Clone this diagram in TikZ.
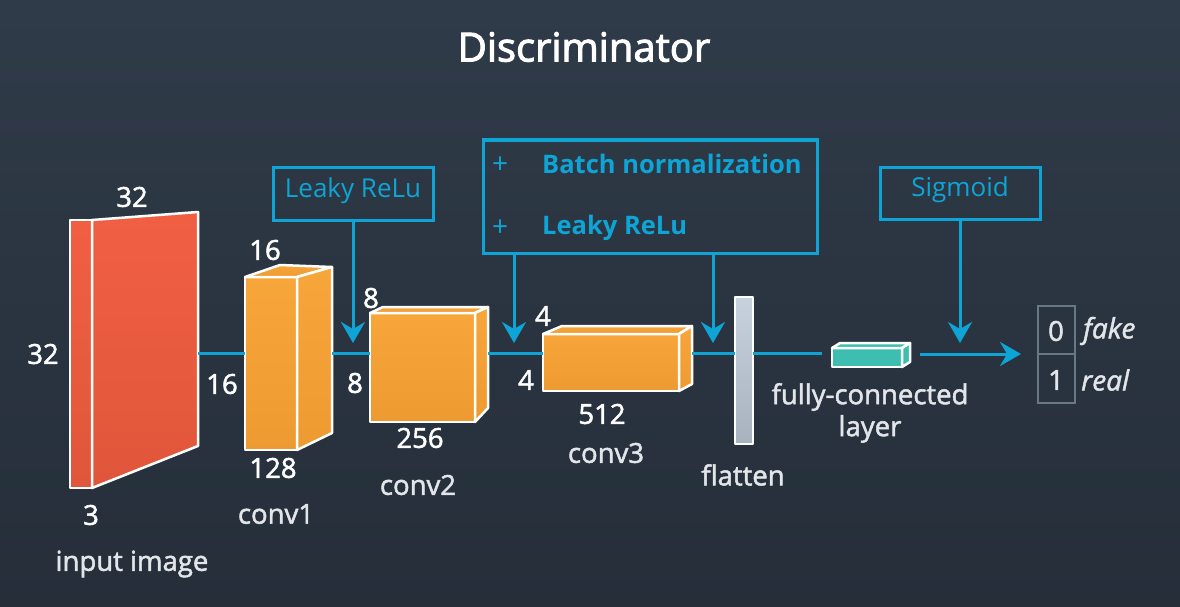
\documentclass[tikz,border=0pt]{standalone}
\usepackage{fontspec}
\setmainfont{Open Sans}
\newfontfamily\semifont{Open Sans}[FakeBold=1.8]
\newfontfamily\titlefont{Open Sans}[FakeBold=2.5]
\newfontfamily\semiitfont{Open Sans Italic}[FakeBold=1.5]
\usetikzlibrary{arrows.meta}
\definecolor{bgtop}{RGB}{48,59,73}
\definecolor{bgbot}{RGB}{37,46,57}
\definecolor{flowc}{RGB}{14,165,214}
\definecolor{redt}{RGB}{241,95,67}
\definecolor{redb}{RGB}{224,86,58}
\definecolor{orgt}{RGB}{247,166,58}
\definecolor{orgb}{RGB}{238,154,50}
\definecolor{flatt}{RGB}{200,210,222}
\definecolor{flatb}{RGB}{168,178,190}
\definecolor{tealc}{RGB}{62,190,176}
\definecolor{outbox}{RGB}{105,120,135}
\definecolor{lblc}{RGB}{226,229,233}
\tikzset{
  numlbl/.style={text=white,inner sep=0pt,font=\fontsize{27.5}{32}\semifont},
  caplbl/.style={text=lblc,inner sep=0pt,font=\fontsize{27.5}{32}\semifont},
  bluebox/.style={draw=flowc,line width=3pt},
  bluetext/.style={text=flowc,inner sep=0pt,font=\fontsize{26}{30}\selectfont},
  flowline/.style={draw=flowc,line width=3pt},
  flowarr/.style={flowline,-{Stealth[length=21pt,width=24pt,inset=7pt]}},
  whiteedge/.style={draw=white,line width=2.5pt,line join=round},
  redface/.style={whiteedge,top color=redt,bottom color=redb},
  orgface/.style={whiteedge,top color=orgt,bottom color=orgb},
}
\begin{document}
\begin{tikzpicture}[x=1pt,y=1pt]
\useasboundingbox (0,0) rectangle (1180,-607);
\shade[top color=bgtop,bottom color=bgbot] (0,0) rectangle (1180,-607);

% title
\node[text=white,inner sep=0pt,font=\fontsize{40}{46}\titlefont] (title) at (584,-47) {Discriminator};

% input image
\path[redface] (70,-220) rectangle (92,-488);
\path[redface] (92,-220) -- (198,-212) -- (198,-446) -- (92,-488) -- cycle;
\coordinate (inR) at (198,-353);
\node[numlbl] (n32a) at (132,-197) {32};
\node[numlbl] (n32b) at (43,-354) {32};
\node[numlbl] (n16a) at (222,-384) {16};
\node[numlbl] (n3) at (91,-515) {3};
\node[caplbl] (inlbl) at (132,-564) {input image};

% conv1
\path[orgface] (245,-277) rectangle (297,-450);
\path[orgface] (245,-277) -- (280,-265) -- (332,-267) -- (297,-277) -- cycle;
\path[orgface] (297,-277) -- (332,-267) -- (332,-433) -- (297,-450) -- cycle;
\coordinate (c1L) at (245,-353);
\coordinate (c1R) at (332,-353);
\node[numlbl] (n16b) at (265,-250) {16};
\node[numlbl] (n128) at (273,-468) {128};
\node[caplbl] (conv1) at (276,-514) {conv1};

% conv2
\path[orgface] (370,-313) rectangle (475,-422);
\path[orgface] (370,-313) -- (383,-307) -- (488,-307) -- (475,-313) -- cycle;
\path[orgface] (475,-313) -- (488,-307) -- (488,-408) -- (475,-422) -- cycle;
\coordinate (c2L) at (370,-353);
\coordinate (c2R) at (488,-353);
\node[numlbl] (n8a) at (371,-298) {8};
\node[numlbl] (n8b) at (355,-383) {8};
\node[numlbl] (n256) at (420,-438) {256};
\node[caplbl] (conv2) at (418,-485) {conv2};

% conv3
\path[orgface] (543,-334) rectangle (679,-391);
\path[orgface] (543,-334) -- (562,-326) -- (692,-326) -- (679,-334) -- cycle;
\path[orgface] (679,-334) -- (692,-326) -- (692,-384) -- (679,-391) -- cycle;
\coordinate (c3L) at (543,-353);
\coordinate (c3R) at (692,-353);
\node[numlbl] (n4a) at (543,-316) {4};
\node[numlbl] (n4b) at (526,-380) {4};
\node[numlbl] (n512) at (602,-414) {512};
\node[caplbl] (conv3) at (606,-453) {conv3};

% flatten
\path[whiteedge,top color=flatt,bottom color=flatb] (735,-297) rectangle (753,-444);
\coordinate (flL) at (735,-353);
\coordinate (flR) at (753,-353);
\node[caplbl] (flatlbl) at (743,-475) {flatten};

% fully connected
\path[whiteedge,fill=tealc] (832,-348) rectangle (902,-367);
\path[whiteedge,fill=tealc] (832,-348) -- (840,-343) -- (910,-343) -- (902,-348) -- cycle;
\path[whiteedge,fill=tealc] (902,-348) -- (910,-343) -- (910,-362) -- (902,-367) -- cycle;
\coordinate (fcL) at (822,-353);
\coordinate (fcR) at (920,-354);
\node[caplbl] (fclbl1) at (870,-397) {fully-connected};
\node[caplbl] (fclbl2) at (870,-429) {layer};

% output
\draw[draw=outbox,line width=2.5pt] (1038,-306) rectangle (1075,-403);
\draw[draw=outbox,line width=2.5pt] (1038,-354) -- (1075,-354);
\coordinate (outL) at (1021,-354);
\node[caplbl] (o0) at (1056,-331) {0};
\node[caplbl] (o1) at (1056,-380) {1};
\node[caplbl,font=\fontsize{28}{32}\semiitfont,anchor=west] (fake) at (1083,-331) {fake};
\node[caplbl,font=\fontsize{28}{32}\semiitfont,anchor=west] (real) at (1081,-380) {real};

% main flow
\draw[flowline] (inR) -- (c1L);
\draw[flowline] (c1R) -- (c2L);
\draw[flowline] (c2R) -- (c3L);
\draw[flowline] (c3R) -- (flL);
\draw[flowline] (flR) -- (fcL);
\draw[flowarr] (fcR) -- (outL);

% Leaky ReLu box
\node[bluebox,minimum width=160pt,minimum height=53pt,inner sep=0pt] (lr) at (353,-193.5) {};
\node[bluetext] (lrt) at (353,-191) {Leaky ReLu};
\coordinate (lrT) at (353,-343);
\draw[flowarr] (lr.south) -- (lrT);

% Batch norm box
\node[bluebox,minimum width=334pt,minimum height=113pt,inner sep=0pt] (bn) at (650,-196.5) {};
\node[bluetext,font=\fontsize{28}{30}\selectfont] (p1) at (500,-165) {+};
\node[bluetext,font=\fontsize{28}{30}\selectfont] (p2) at (500,-228) {+};
\node[bluetext,font=\fontsize{25.5}{30}\selectfont\bfseries,anchor=west] (bnt1) at (542,-164) {Batch normalization};
\node[bluetext,font=\fontsize{25.5}{30}\selectfont\bfseries,anchor=west] (bnt2) at (542,-228) {Leaky ReLu};
\coordinate (bnA) at (514,-253);
\coordinate (bnAT) at (514,-343);
\coordinate (bnB) at (713,-253);
\coordinate (bnBT) at (713,-343);
\draw[flowarr] (bnA) -- (bnAT);
\draw[flowarr] (bnB) -- (bnBT);

% Sigmoid box
\node[bluebox,minimum width=160pt,minimum height=52pt,inner sep=0pt] (sg) at (960,-193) {};
\node[bluetext] (sgt) at (960,-190) {Sigmoid};
\coordinate (sgT) at (960,-343);
\draw[flowarr] (sg.south) -- (sgT);
\end{tikzpicture}
\end{document}
